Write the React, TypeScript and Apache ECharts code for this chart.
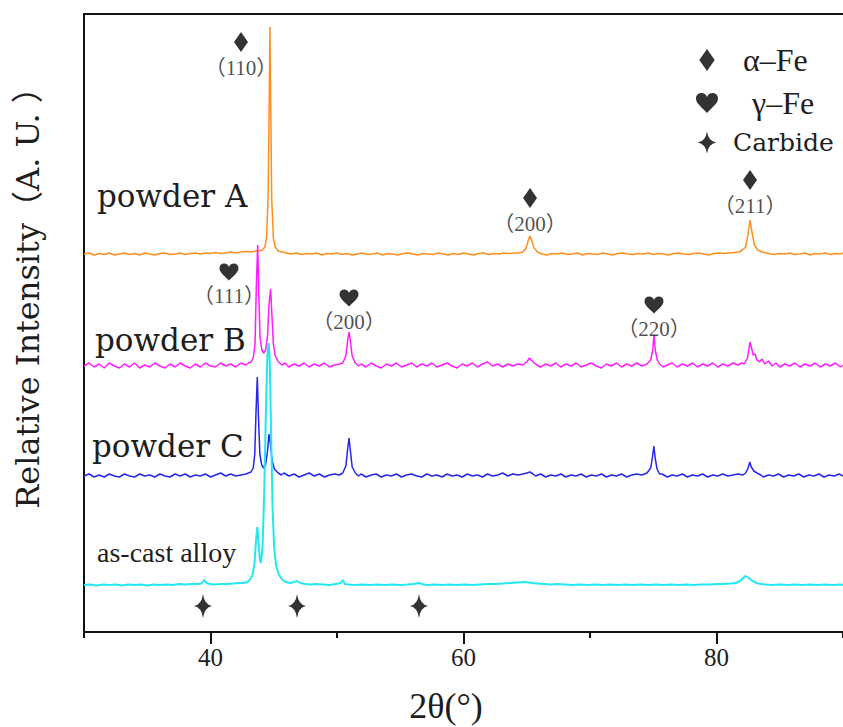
import React, { useEffect, useRef } from "react";
import * as echarts from "echarts";

// 2θ (deg), relative intensity (a.u.) for each pattern
const powderA: number[][] = [
  [30,0],[30.4,1],[30.8,-1],[31.2,0.5],[31.6,-0.5],[32,1],[32.4,-1],[32.8,0],[33.2,1],[33.6,-0.5],[34,0.5],[34.4,-1],[34.8,1],[35.2,0],[35.6,-1],[36,0.5],[36.4,1],[36.8,-0.5],[37.2,0],[37.6,1],[38,-0.5],[38.4,0.5],[38.8,1],[39.2,0],[39.6,1],[40,0.5],[40.4,1.5],[40.8,0.5],[41.2,1],[41.6,2],[42,1],[42.4,2],[42.8,2.5],[43.2,2],[43.6,3],[43.9,3.5],[44.1,4],[44.3,7],[44.43,16],[44.55,55],[44.64,150],[44.7,227],[44.76,150],[44.84,55],[44.97,16],[45.12,7],[45.35,3],[45.7,2],[46,1],[46.4,0],[46.8,1],[47.2,-0.5],[47.6,0.5],[48,0],[48.4,1],[48.8,-1],[49.2,0.5],[49.6,0],[50,1],[50.4,-0.5],[50.8,0.5],[51.2,-1],[51.6,0],[52,1],[52.4,-0.5],[52.8,0],[53.2,1],[53.6,-1],[54,0.5],[54.4,0],[54.8,-1],[55.2,0.5],[55.6,1],[56,0],[56.4,-1],[56.8,0.5],[57.2,0],[57.6,-0.5],[58,1],[58.4,0],[58.8,-1],[59.2,0.5],[59.6,-0.5],[60,1],[60.4,0],[60.8,-1],[61.2,0.5],[61.6,1],[62,-0.5],[62.4,0.5],[62.8,0],[63.2,1],[63.6,0.5],[64,1],[64.4,1],[64.7,2],[64.95,6],[65.13,14],[65.26,18],[65.38,14],[65.58,6],[65.85,2],[66.2,0],[66.6,-1],[67,0.5],[67.4,0],[67.8,1],[68.2,-0.5],[68.6,0],[69,1],[69.4,-1],[69.8,0.5],[70.2,0],[70.6,-0.5],[71,1],[71.4,0],[71.8,-1],[72.2,0.5],[72.6,1],[73,0],[73.4,-0.5],[73.8,0.5],[74.2,0],[74.6,1],[75,-0.5],[75.4,0.5],[75.8,0],[76.2,-1],[76.6,0.5],[77,1],[77.4,0],[77.8,-0.5],[78.2,0.5],[78.6,1],[79,0],[79.4,-1],[79.8,0.5],[80.2,1],[80.6,0.5],[81,1],[81.4,1.5],[81.8,2],[82.05,4],[82.3,7],[82.5,20],[82.65,34],[82.8,22],[83.0,9],[83.25,4],[83.6,2],[84,1],[84.3,0],[84.6,-0.5],[85,0.5],[85.4,0],[85.8,1],[86.2,-0.5],[86.6,0],[87,1],[87.4,-1],[87.8,0.5],[88.2,0],[88.6,1],[89,-0.5],[89.4,0.5],[89.8,0],[90,1]
];

const powderB: number[][] = [
  [30,0],[30.4,3],[30.8,-1],[31.2,2],[31.6,-2],[32,3],[32.4,0],[32.8,-2],[33.2,2],[33.6,-1],[34,3],[34.4,-2],[34.8,1],[35.2,-1],[35.6,3],[36,0],[36.4,-2],[36.8,2],[37.2,-1],[37.6,3],[38,0],[38.4,-2],[38.8,2],[39.2,-1],[39.6,3],[40,0],[40.4,-1],[40.8,3],[41.2,0],[41.6,2],[42,-1],[42.4,3],[42.8,1],[43.0,3],[43.2,4],[43.38,8],[43.52,22],[43.62,78],[43.73,121],[43.82,70],[43.92,28],[44.06,16],[44.21,13],[44.36,16],[44.51,30],[44.63,62],[44.75,77],[44.85,52],[44.97,22],[45.12,10],[45.37,4],[45.65,1],[45.9,3],[46.2,-1],[46.6,2],[47,0],[47.4,3],[47.8,-1],[48.2,2],[48.6,0],[49,3],[49.4,-1],[49.8,1],[50.2,2],[50.45,3],[50.7,10],[50.85,26],[50.95,34],[51.05,26],[51.2,10],[51.45,3],[51.7,0],[51.9,2],[52.3,-1],[52.7,3],[53.1,0],[53.5,-2],[53.9,2],[54.3,0],[54.7,3],[55.1,-1],[55.5,1],[55.9,3],[56.3,-1],[56.7,2],[57.1,0],[57.5,3],[57.9,-1],[58.3,1],[58.7,3],[59.1,0],[59.5,-2],[59.9,2],[60.3,0],[60.7,3],[61.1,-1],[61.5,2],[61.9,4],[62.3,0],[62.7,2],[63.1,-1],[63.5,2],[63.9,0],[64.3,2],[64.7,1],[65.0,4],[65.22,8],[65.42,5],[65.7,2],[66.1,-1],[66.5,2],[66.9,0],[67.3,3],[67.7,-1],[68.1,2],[68.5,0],[68.9,3],[69.3,-1],[69.7,1],[70.1,3],[70.5,0],[70.9,-2],[71.3,2],[71.7,0],[72.1,3],[72.5,-1],[72.9,2],[73.3,0],[73.7,3],[74.1,0],[74.5,2],[74.8,6],[74.96,16],[75.06,31],[75.16,16],[75.32,6],[75.5,2],[75.8,-1],[76.1,1],[76.5,3],[76.9,-1],[77.3,2],[77.7,0],[78.1,3],[78.5,-1],[78.9,2],[79.3,0],[79.7,3],[80.1,-1],[80.5,2],[80.9,0],[81.3,3],[81.7,1],[82.0,3],[82.2,2],[82.45,8],[82.57,18],[82.65,24],[82.75,19],[82.9,11],[83.05,12],[83.2,6],[83.4,4],[83.6,7],[83.8,2],[84.1,5],[84.4,0],[84.7,3],[85,-1],[85.4,2],[85.8,0],[86.2,3],[86.6,-1],[87,2],[87.4,0],[87.8,3],[88.2,-1],[88.6,2],[89,0],[89.4,3],[89.8,-1],[90,1]
];

const powderC: number[][] = [
  [30,0],[30.4,2],[30.8,-1],[31.2,1],[31.6,-1],[32,2],[32.4,0],[32.8,-1],[33.2,2],[33.6,0],[34,-1],[34.4,2],[34.8,0],[35.2,1],[35.6,-1],[36,2],[36.4,0],[36.8,-1],[37.2,2],[37.6,0],[38,2],[38.4,-1],[38.8,1],[39.2,0],[39.6,2],[40,-1],[40.4,1],[40.8,3],[41.2,0],[41.6,2],[42,0],[42.4,1],[42.8,2],[43.0,3],[43.2,4],[43.38,8],[43.5,22],[43.6,65],[43.7,99],[43.79,60],[43.9,22],[44.05,11],[44.2,8],[44.35,11],[44.5,24],[44.62,42],[44.73,33],[44.87,15],[45.05,7],[45.35,3],[45.6,1],[45.8,3],[46.2,0],[46.6,2],[47,-1],[47.4,1],[47.8,3],[48.2,0],[48.6,2],[49,-1],[49.4,1],[49.8,2],[50.2,1],[50.45,3],[50.7,10],[50.85,28],[50.95,38],[51.05,26],[51.2,9],[51.45,3],[51.7,0],[51.9,2],[52.3,-1],[52.7,1],[53.1,2],[53.5,-1],[53.9,1],[54.3,0],[54.7,2],[55.1,-1],[55.5,1],[55.9,2],[56.3,0],[56.7,-1],[57.1,2],[57.5,0],[57.9,1],[58.3,-1],[58.7,2],[59.1,0],[59.5,1],[59.9,-1],[60.3,2],[60.7,0],[61.1,1],[61.5,-1],[61.9,2],[62.3,0],[62.7,1],[63.1,3],[63.5,0],[63.9,2],[64.3,1],[64.7,2],[65.0,3],[65.25,4],[65.5,2],[65.7,0],[66.1,2],[66.5,-1],[66.9,1],[67.3,0],[67.7,2],[68.1,-1],[68.5,1],[68.9,0],[69.3,2],[69.7,-1],[70.1,1],[70.5,0],[70.9,2],[71.3,-1],[71.7,1],[72.1,0],[72.5,2],[72.9,-1],[73.3,1],[73.7,2],[74.1,1],[74.5,3],[74.8,8],[74.95,20],[75.05,30],[75.15,18],[75.3,7],[75.5,2],[75.7,2],[76.1,-1],[76.5,1],[76.9,0],[77.3,2],[77.7,-1],[78.1,1],[78.5,0],[78.9,2],[79.3,-1],[79.7,1],[80.1,0],[80.5,2],[80.9,0],[81.3,1],[81.7,2],[82.1,1],[82.3,3],[82.5,8],[82.63,14],[82.75,9],[82.95,5],[83.2,3],[83.5,1],[83.7,-1],[84.1,1],[84.5,0],[84.9,2],[85.3,-1],[85.7,1],[86.1,0],[86.5,2],[86.9,-1],[87.3,1],[87.7,0],[88.1,2],[88.5,-1],[88.9,1],[89.3,0],[89.7,2],[90,0]
];

const asCast: number[][] = [
  [30,0],[30.5,0.5],[31,-0.5],[31.5,0.5],[32,0],[32.5,0.5],[33,-0.5],[33.5,0.5],[34,0],[34.5,0.5],[35,-0.5],[35.5,0.5],[36,0],[36.5,0.5],[37,0],[37.5,1],[38,0.5],[38.5,1],[39,1],[39.3,1.5],[39.5,5],[39.7,2],[39.95,1],[40.3,0.5],[40.8,1],[41.3,1],[41.8,1.5],[42.2,2],[42.6,2],[42.9,3],[43.1,5],[43.33,10],[43.48,22],[43.6,45],[43.7,58],[43.8,42],[43.9,25],[44.0,22],[44.12,40],[44.25,95],[44.38,175],[44.5,230],[44.6,242],[44.68,225],[44.78,160],[44.9,80],[45.03,38],[45.18,20],[45.38,11],[45.63,6],[45.95,3],[46.3,2],[46.6,3],[46.84,4],[47.1,2],[47.5,1],[47.9,0.5],[48.4,1],[48.9,0.5],[49.4,0],[49.9,1],[50.3,2],[50.47,5],[50.62,1],[50.9,0.5],[51.4,0],[52,0.5],[52.6,0],[53.2,0.5],[53.8,0],[54.4,0.5],[55,0],[55.6,0.5],[56.1,1],[56.48,2],[56.85,0.5],[57.2,0],[57.7,0.5],[58.3,0],[58.9,0.5],[59.5,0],[60.1,0.5],[60.7,0],[61.3,0.5],[61.9,1],[62.5,1],[63.1,1.5],[63.7,2],[64.2,2.5],[64.9,3],[65.4,2],[65.9,1.5],[66.4,1],[66.9,0.5],[67.4,1],[68,0.5],[68.6,0],[69.2,0.5],[69.8,0],[70.4,0.5],[71,0],[71.6,0.5],[72.2,0],[72.8,0.5],[73.4,0],[74,0.5],[74.6,0],[75.2,0.5],[75.8,0],[76.4,0.5],[77,0],[77.6,0.5],[78.2,0],[78.8,0.5],[79.4,0.5],[80,1],[80.6,1],[81.1,1.5],[81.5,2],[81.85,4],[82.1,7],[82.3,9],[82.55,7],[82.85,4],[83.15,2],[83.5,1],[83.9,0.5],[84.4,0],[85,0.5],[85.6,0],[86.2,0.5],[86.8,0],[87.4,0.5],[88,0],[88.6,0.5],[89.2,0],[89.8,0.5],[90,0]
];

const patternNames = ["powder A", "powder B", "powder C", "as-cast alloy"];
const patternOffsets = [378, 266, 156, 47];

// peak markers: [2θ, height on the stacked scale]
const alphaPeaks = [[42.41, 590], [65.26, 434], [82.65, 452]];
const alphaHkl = ["（110）", "（200）", "（211）"];
const gammaPeaks = [[41.46, 360], [50.95, 334], [75.06, 327]];
const gammaHkl = ["（111）", "（200）", "（220）"];
const carbidePeaks = [[39.41, 26], [46.84, 26], [56.48, 26]];

const xMajorTicks = [40, 60, 80];
const xMinorTicks = [30, 50, 70, 90];

const DIAMOND = "path://M7,0 L14,10 L7,20 L0,10 Z";
const HEART =
  "path://M10,18 C4,12 0,9 0,5 C0,2 2,0 5,0 C7.5,0 9,1.5 10,3.5 C11,1.5 12.5,0 15,0 C18,0 20,2 20,5 C20,9 16,12 10,18 Z";
const STAR = "path://M10,0 Q11.5,10.5 20,12 Q11.5,13.5 10,24 Q8.5,13.5 0,12 Q8.5,10.5 10,0 Z";

const TEXT = "#1e1e1e";

export default function App() {
  const ref = useRef<HTMLDivElement>(null);
  useEffect(() => {
    document.body.style.margin = "0";
    const chart = echarts.init(ref.current!, null, { renderer: "svg" });
    const patterns = [powderA, powderB, powderC, asCast];
    const colors = ["#FF8E1C", "#FF1CFF", "#2626EE", "#22E8F0"];
    const widths = [1.5, 1.5, 1.5, 2];
    const lineSeries = patterns.map((p, i) => ({
      type: "line",
      name: patternNames[i],
      data: p.map(([x, y]) => [x, y + patternOffsets[i]]),
      showSymbol: false,
      symbol: "none",
      silent: true,
      lineStyle: { color: colors[i], width: widths[i] },
      z: 2 + i,
    }));
    const hklLabel = {
      show: true,
      position: "bottom",
      distance: 5,
      fontFamily: "Liberation Serif, Noto Sans CJK SC",
      fontSize: 21,
      color: TEXT,
    };
    const option: any = {
      animation: false,
      backgroundColor: "#ffffff",
      grid: { left: 84, right: 0, top: 14, bottom: 95 },
      xAxis: [
        {
          type: "value",
          min: 30,
          max: 90,
          position: "bottom",
          splitLine: { show: false },
          axisLine: { show: true, lineStyle: { color: "#111", width: 2 } },
          axisTick: { show: true, customValues: xMajorTicks, length: 12, lineStyle: { color: "#111", width: 2 } },
          axisLabel: {
            show: true,
            customValues: xMajorTicks,
            margin: 13,
            fontFamily: "Liberation Serif",
            fontSize: 25,
            color: TEXT,
          },
        },
        {
          type: "value",
          min: 30,
          max: 90,
          position: "bottom",
          splitLine: { show: false },
          axisLine: { show: false },
          axisTick: { show: true, customValues: xMinorTicks, length: 6, lineStyle: { color: "#111", width: 2 } },
          axisLabel: { show: false },
        },
        {
          type: "value",
          min: 30,
          max: 90,
          position: "top",
          splitLine: { show: false },
          axisLine: { show: true, lineStyle: { color: "#111", width: 2 } },
          axisTick: { show: false },
          axisLabel: { show: false },
        },
      ],
      yAxis: {
        type: "value",
        min: 0,
        max: 618,
        splitLine: { show: false },
        axisLine: { show: true, lineStyle: { color: "#111", width: 2 } },
        axisTick: { show: false },
        axisLabel: { show: false },
      },
      legend: {
        orient: "vertical",
        left: 691,
        top: 39,
        itemWidth: 22,
        itemHeight: 22,
        itemGap: 11,
        selectedMode: false,
        data: [
          { name: "α–Fe", icon: DIAMOND },
          { name: "γ–Fe", icon: HEART },
          { name: "Carbide", icon: STAR },
        ],
        formatter: (name: string) =>
          name === "α–Fe" ? `{a|${name}}` : name === "γ–Fe" ? `{g|${name}}` : `{c|${name}}`,
        textStyle: {
          color: TEXT,
          rich: {
            a: { fontFamily: "Liberation Serif", fontSize: 32, lineHeight: 30, padding: [0, 0, 0, 20], color: TEXT },
            g: { fontFamily: "Liberation Serif", fontSize: 32, lineHeight: 30, padding: [0, 0, 0, 29], color: TEXT },
            c: { fontFamily: "DejaVu Serif", fontSize: 25, lineHeight: 30, padding: [0, 0, 0, 10], color: TEXT },
          },
        },
      },
      series: [
        ...lineSeries,
        {
          type: "scatter",
          name: "α–Fe",
          data: alphaPeaks,
          symbol: DIAMOND,
          symbolSize: [14, 20],
          itemStyle: { color: "#000" },
          label: { ...hklLabel, formatter: (p: any) => alphaHkl[p.dataIndex] },
          z: 10,
        },
        {
          type: "scatter",
          name: "γ–Fe",
          data: gammaPeaks,
          symbol: HEART,
          symbolSize: [19, 17],
          itemStyle: { color: "#000" },
          label: { ...hklLabel, formatter: (p: any) => gammaHkl[p.dataIndex] },
          z: 10,
        },
        {
          type: "scatter",
          name: "Carbide",
          data: carbidePeaks,
          symbol: STAR,
          symbolSize: [18, 24],
          itemStyle: { color: "#000" },
          z: 10,
        },
      ],
      graphic: [
        {
          type: "text",
          x: 28,
          y: 290,
          rotation: Math.PI / 2,
          style: {
            text: "Relative Intensity（A. U. ）",
            fontFamily: "DejaVu Serif, Noto Sans CJK SC",
            fontSize: 32,
            fill: TEXT,
            align: "center",
            verticalAlign: "middle",
          },
        },
        {
          type: "text",
          x: 446,
          y: 706,
          style: {
            text: "2θ(°)",
            fontFamily: "Liberation Serif",
            fontSize: 36,
            fill: TEXT,
            align: "center",
            verticalAlign: "middle",
          },
        },
        {
          type: "text",
          x: 97,
          y: 196,
          style: { text: patternNames[0], fontFamily: "DejaVu Serif", fontSize: 31, fill: TEXT, align: "left", verticalAlign: "middle" },
        },
        {
          type: "text",
          x: 95,
          y: 340,
          style: { text: patternNames[1], fontFamily: "DejaVu Serif", fontSize: 31, fill: TEXT, align: "left", verticalAlign: "middle" },
        },
        {
          type: "text",
          x: 92,
          y: 446,
          style: { text: patternNames[2], fontFamily: "DejaVu Serif", fontSize: 31, fill: TEXT, align: "left", verticalAlign: "middle" },
        },
        {
          type: "text",
          x: 97,
          y: 552,
          style: { text: patternNames[3], fontFamily: "Liberation Serif", fontSize: 28, fill: TEXT, align: "left", verticalAlign: "middle" },
        },
      ],
    };
    chart.setOption(option);
    return () => chart.dispose();
  }, []);
  return (
    <div
      ref={ref}
      style={{ position: "absolute", left: 0, top: 0, width: 843, height: 727, background: "#fff" }}
    />
  );
}
